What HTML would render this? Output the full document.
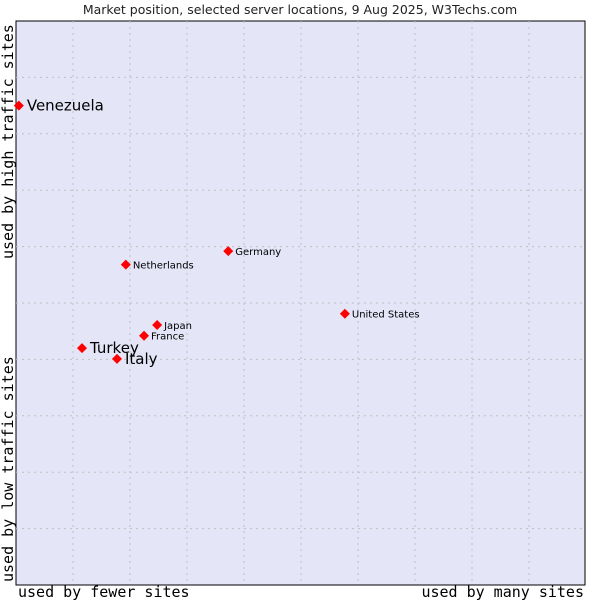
<!DOCTYPE html>
<html><head><meta charset="utf-8"><style>
body{margin:0;background:#fff;width:600px;height:600px;overflow:hidden}
text{font-family:"DejaVu Sans","Liberation Sans",sans-serif}
</style></head><body>
<svg id="c" width="600" height="600" xmlns="http://www.w3.org/2000/svg">
<text x="300" y="14" text-anchor="middle" font-size="12.5" fill="#222">Market position, selected server locations, 9 Aug 2025, W3Techs.com</text>
<rect x="16" y="21" width="569" height="564" fill="#e4e5f7" stroke="#000" stroke-width="1"/>
<g id="grid"></g>
<g id="pts"></g>
<text x="18" y="597" font-size="15" fill="#000" style="font-family:'DejaVu Sans Mono',monospace">used by fewer sites</text>
<text x="584" y="597" text-anchor="end" font-size="15" fill="#000" style="font-family:'DejaVu Sans Mono',monospace">used by many sites</text>
<text transform="translate(13,259) rotate(-90)" font-size="15" fill="#000" style="font-family:'DejaVu Sans Mono',monospace">used by high traffic sites</text>
<text transform="translate(13,582) rotate(-90)" font-size="15" fill="#000" style="font-family:'DejaVu Sans Mono',monospace">used by low traffic sites</text>
</svg>
<script>
const names=["Venezuela","Netherlands","Germany","United States","Japan","France","Turkey","Italy"];
const xVals=[0.5,19.3,37.3,57.8,24.8,22.5,11.6,17.75];
const yVals=[85.0,56.8,59.2,48.1,46.1,44.2,42.0,40.1];
const bigLabel=[true,false,false,false,false,false,true,true];
const L=16,T=21,W=569,H=564;
const sx=v=>L+v/100*W, sy=v=>T+H-v/100*H;
const NS="http://www.w3.org/2000/svg";
const g=document.getElementById('grid');
for(let i=1;i<10;i++){
 const x=L+i*57;
 const l=document.createElementNS(NS,'line');
 l.setAttribute('x1',x);l.setAttribute('x2',x);l.setAttribute('y1',T);l.setAttribute('y2',T+H);
 l.setAttribute('stroke','#c0c0c0');l.setAttribute('stroke-dasharray','2,4');
 
 
 g.appendChild(l);
 const y=T+i*56.4;
 const h=document.createElementNS(NS,'line');
 h.setAttribute('x1',L);h.setAttribute('x2',L+W);h.setAttribute('y1',y);h.setAttribute('y2',y);
 h.setAttribute('stroke','#c0c0c0');h.setAttribute('stroke-dasharray','2,4');
 
 
 g.appendChild(h);
}
const p=document.getElementById('pts');
names.forEach((n,i)=>{
 const x=sx(xVals[i]),y=sy(yVals[i]);
 const c=document.createElementNS(NS,'path');
 c.setAttribute('d',`M${x-5},${y}L${x},${y-5}L${x+5},${y}L${x},${y+5}Z`);
 c.setAttribute('fill','#f00');
 
 
 p.appendChild(c);
 const t=document.createElementNS(NS,'text');
 const big=bigLabel[i];
 t.setAttribute('x',x+(big?8:7));t.setAttribute('y',y+(big?5:4));
 t.setAttribute('font-size',big?15:10);t.setAttribute('fill','#000');
 t.textContent=n;
 
 
 p.appendChild(t);
});
</script>
</body></html>
